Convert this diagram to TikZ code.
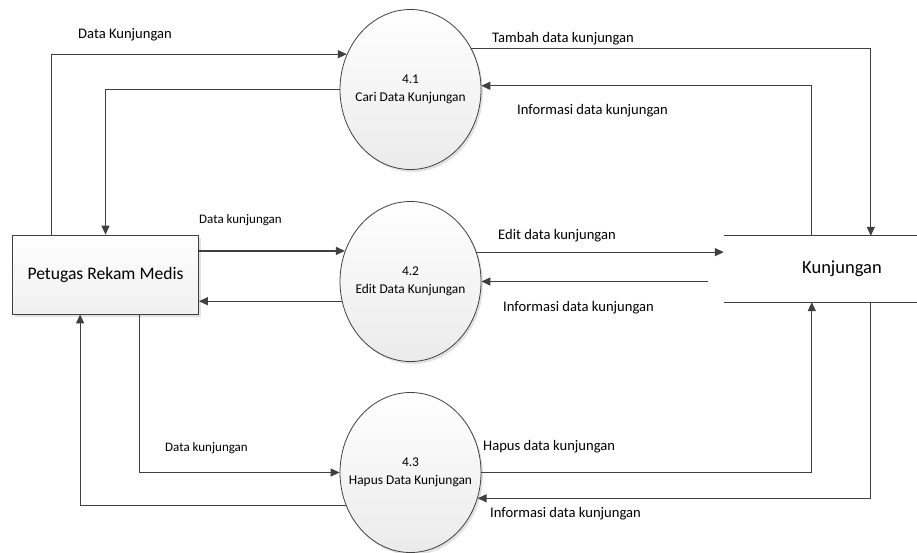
\documentclass[tikz,border=0pt]{standalone}
\usepackage{fontspec}
\setmainfont{Carlito}
\usetikzlibrary{arrows.meta,shapes.geometric,shadows}
\definecolor{ln}{HTML}{404040}
\begin{document}
\begin{tikzpicture}[x=1pt,y=-1pt,
  flow/.style={draw=ln, line width=1.2pt, -{Triangle[length=9pt,width=8pt]}},
  plain/.style={draw=ln, line width=1.2pt},
  shd/.style={drop shadow={shadow xshift=2pt,shadow yshift=-2.5pt,fill=gray!45,opacity=0.5}},
  proc/.style={ellipse, draw=ln, line width=0.8pt, minimum width=141pt, minimum height=160pt,
    inner sep=0pt, top color=white, bottom color=gray!16, shd},
  proctext/.style={align=center, inner sep=0pt, font=\fontsize{13.4}{18}\selectfont},
  ent/.style={rectangle, draw=ln, line width=0.8pt, minimum width=186pt, minimum height=79pt,
    top color=white, bottom color=gray!12, shd, font=\fontsize{17.6}{20}\selectfont},
  store/.style={rectangle, inner sep=0pt, minimum width=236pt, minimum height=66pt,
    font=\fontsize{18.5}{20}\selectfont},
  lbl/.style={anchor=west, inner sep=0pt, font=\fontsize{14.6}{16}\selectfont},
  slbl/.style={anchor=west, inner sep=0pt, font=\fontsize{13}{15}\selectfont}
]
\useasboundingbox[fill=white] (0,0) rectangle (917,552);

% nodes
\node[ent] (e) at (105.5,274.5) {Petugas Rekam Medis};
\node[proc, label={[proctext]center:{4.1\\Cari Data Kunjungan}}] (p1) at (410.5,89.5) {};
\node[proc, label={[proctext]center:{4.2\\Edit Data Kunjungan}}] (p2) at (410.5,281.5) {};
\node[proc, label={[proctext]center:{4.3\\Hapus Data Kunjungan}}] (p3) at (410.5,472.5) {};
\node[store] (s) at (842,269) {Kunjungan};
\coordinate (rgt) at (917,0);
\draw[plain] (s.north west) -- (s.north west -| rgt);
\draw[plain] (s.south west) -- (s.south west -| rgt);

% flows around 4.1
\draw[flow] ([xshift=39pt]e.north west) |- (p1.151);
\draw[flow] (p1.west) -| (e.north);
\draw[flow] (p1.34) -| ([xshift=147pt]s.north west);
\draw[flow] ([xshift=88pt]s.north west) |- (p1.3);

% flows around 4.2
\draw[flow] (e.east |- p2.155) -- (p2.155);
\draw[flow] (p2.196) -- (e.east |- p2.196);
\draw[flow] (p2.24) -- (s.west |- p2.24);
\draw[flow] ([xshift=-16pt]s.west |- p2.east) -- (p2.east);

% flows around 4.3
\draw[flow] (p3.207) -| ([xshift=68pt]e.south west);
\draw[flow] ([xshift=127pt]e.south west) |- (p3.west);
\draw[flow] (p3.east) -| ([xshift=88pt]s.south west);
\draw[flow] ([xshift=147pt]s.south west) |- (p3.339);

% labels
\node[lbl] (l1) at (78,35) {Data Kunjungan};
\node[lbl] (l2) at (492,39) {Tambah data kunjungan};
\node[lbl] (l3) at (517,111) {Informasi data kunjungan};
\node[slbl] (l4) at (199,220) {Data kunjungan};
\node[lbl] (l5) at (498,236) {Edit data kunjungan};
\node[lbl] (l6) at (503,308) {Informasi data kunjungan};
\node[slbl] (l7) at (165,448) {Data kunjungan};
\node[lbl] (l8) at (483,447) {Hapus data kunjungan};
\node[lbl] (l9) at (490,514) {Informasi data kunjungan};
\end{tikzpicture}
\end{document}
